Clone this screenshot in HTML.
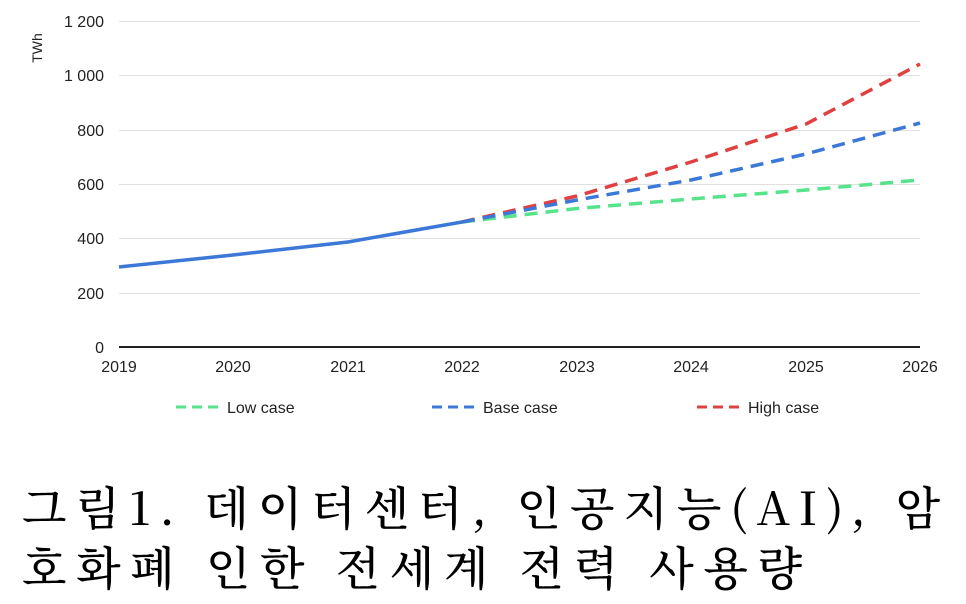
<!DOCTYPE html>
<html><head><meta charset="utf-8"><style>
html,body{margin:0;padding:0;background:#fff;width:966px;height:604px;overflow:hidden}
svg{display:block}
</style></head><body>
<svg width="966" height="604" viewBox="0 0 966 604" xmlns="http://www.w3.org/2000/svg">
<g stroke="#e0e0e0" stroke-width="1">
<line x1="119" x2="920" y1="21.5" y2="21.5"/>
<line x1="119" x2="920" y1="75.5" y2="75.5"/>
<line x1="119" x2="920" y1="130.5" y2="130.5"/>
<line x1="119" x2="920" y1="184.5" y2="184.5"/>
<line x1="119" x2="920" y1="238.5" y2="238.5"/>
<line x1="119" x2="920" y1="293.5" y2="293.5"/>
</g>
<line x1="119" x2="920" y1="347" y2="347" stroke="#222" stroke-width="2"/>
<g font-family="Liberation Sans, sans-serif" font-size="16" fill="#222" text-anchor="end">
<text x="104" y="27">1 200</text>
<text x="104" y="81">1 000</text>
<text x="104" y="136">800</text>
<text x="104" y="190">600</text>
<text x="104" y="244">400</text>
<text x="104" y="299">200</text>
<text x="104" y="353">0</text>
</g>
<text transform="translate(42,48) rotate(-90)" font-family="Liberation Sans, sans-serif" font-size="14" fill="#222" text-anchor="middle">TWh</text>
<g font-family="Liberation Sans, sans-serif" font-size="16" fill="#222" text-anchor="middle">
<text x="119" y="372">2019</text><text x="233" y="372">2020</text><text x="348" y="372">2021</text><text x="462" y="372">2022</text>
<text x="577" y="372">2023</text><text x="691" y="372">2024</text><text x="806" y="372">2025</text><text x="920" y="372">2026</text>
</g>
<g fill="none" stroke-width="3.5" stroke-dasharray="13,8">
<polyline stroke="#57e389" points="462,222 577,208.5 691,199 806,190 920,180"/>
<polyline stroke="#e04040" points="462,222 577,196 691,162 806,124 920,64"/>
<polyline stroke="#3c78d8" points="462,222 577,200 691,180 806,154 920,123"/>
</g>
<polyline fill="none" stroke="#3c78d8" stroke-width="3.5" points="119,267 233,255 348,242 462,222"/>
<g stroke-width="3" stroke-dasharray="10,6">
<line x1="176" x2="218" y1="407" y2="407" stroke="#57e389"/>
<line x1="432" x2="474" y1="407" y2="407" stroke="#3c78d8"/>
<line x1="697" x2="739" y1="407" y2="407" stroke="#e04040"/>
</g>
<g font-family="Liberation Sans, sans-serif" font-size="16" fill="#222">
<text x="227" y="413">Low case</text>
<text x="483" y="413">Base case</text>
<text x="748" y="413">High case</text>
</g>
<g font-family="'Noto Serif CJK SC', 'Liberation Serif', serif" font-size="46" font-weight="500" fill="#000">
<text x="22" y="525" textLength="918" lengthAdjust="spacing">그림1. 데이터센터, 인공지능(AI), 암</text>
<text x="22" y="585" textLength="780" lengthAdjust="spacing">호화폐 인한 전세계 전력 사용량</text>
</g>
</svg>
</body></html>
